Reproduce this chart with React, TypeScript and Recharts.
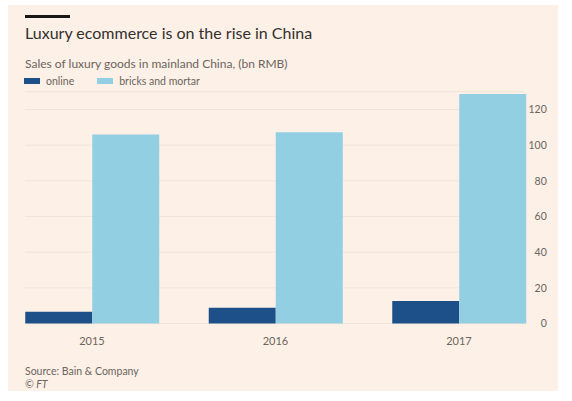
import React from "react";
import { BarChart, Bar, XAxis, YAxis, CartesianGrid, Legend } from "recharts";

const years = ["2015", "2016", "2017"];
const online = [6.6, 8.9, 12.6];
const bricksAndMortar = [106, 107.2, 128.7];
const yTicks = [0, 20, 40, 60, 80, 100, 120];

const data = years.map((year, i) => ({
  year,
  online: online[i],
  bricks: bricksAndMortar[i],
}));

const FONT = "Lato, 'Open Sans', sans-serif";
const ONLINE = "#1d5088";
const BRICKS = "#93cfe3";
const GREY = "#6b6560";

const renderYTick = (props: any) => {
  const { x, y, payload } = props;
  return (
    <text x={x} y={y} dy="0.35em" textAnchor="end" fontFamily={FONT} fontSize={10.5} fill={GREY}>
      {payload.value}
    </text>
  );
};

const LegendContent = () => (
  <div style={{ display: "flex", alignItems: "center", fontFamily: FONT, fontSize: 10.5, color: GREY, whiteSpace: "nowrap" }}>
    <span style={{ display: "inline-block", width: 16, height: 6, background: ONLINE, marginRight: 6 }} />
    <span style={{ marginRight: 23 }}>online</span>
    <span style={{ display: "inline-block", width: 16, height: 6, background: BRICKS, marginRight: 6 }} />
    <span>bricks and mortar</span>
  </div>
);

export default function App() {
  return (
    <div style={{ position: "absolute", left: 0, top: 0, width: 572, height: 401, background: "#ffffff" }}>
      <svg width={572} height={401} style={{ position: "absolute", left: 0, top: 0 }}>
        <rect x={8} y={5} width={550} height={386} fill="#fdf0e6" />
        <rect x={25} y={15} width={45} height={3} fill="#1a1817" />
        <text x={25} y={39} fontFamily={FONT} fontSize={16} fill="#33302e">
          Luxury ecommerce is on the rise in China
        </text>
        <text x={25} y={68} fontFamily={FONT} fontSize={12} fill={GREY}>
          Sales of luxury goods in mainland China, (bn RMB)
        </text>
        <text x={25} y={375} fontFamily={FONT} fontSize={10.5} fill={GREY}>
          Source: Bain &amp; Company
        </text>
        <text x={25} y={388} fontFamily={FONT} fontSize={10.5} fontStyle="italic" fill={GREY}>
          © FT
        </text>
      </svg>
      <div style={{ position: "absolute", left: 0, top: 0 }}>
        <BarChart
          width={572}
          height={401}
          data={data}
          margin={{ top: 91.7, right: 21.25, bottom: 57.5, left: 0.25 }}
          barGap={0}
          barCategoryGap={25}
        >
          <CartesianGrid horizontal vertical={false} x={25} width={500} stroke="#f1e4d9" strokeWidth={1} />
          <XAxis
            dataKey="year"
            height={20}
            axisLine={false}
            tickLine={false}
            tickSize={0}
            tickMargin={14}
            tick={{ fontFamily: FONT, fontSize: 11, fill: GREY }}
            interval={0}
          />
          <YAxis
            orientation="right"
            mirror
            domain={[0, 130]}
            ticks={yTicks}
            axisLine={false}
            tickLine={false}
            tickSize={0}
            tickMargin={4}
            tick={renderYTick}
          />
          <Legend
            layout="horizontal"
            verticalAlign="middle"
            align="center"
            wrapperStyle={{ top: 75, left: 24, width: "auto", height: "auto" }}
            content={<LegendContent />}
          />
          <Bar dataKey="online" name="online" fill={ONLINE} isAnimationActive={false} />
          <Bar dataKey="bricks" name="bricks and mortar" fill={BRICKS} isAnimationActive={false} />
        </BarChart>
      </div>
    </div>
  );
}
